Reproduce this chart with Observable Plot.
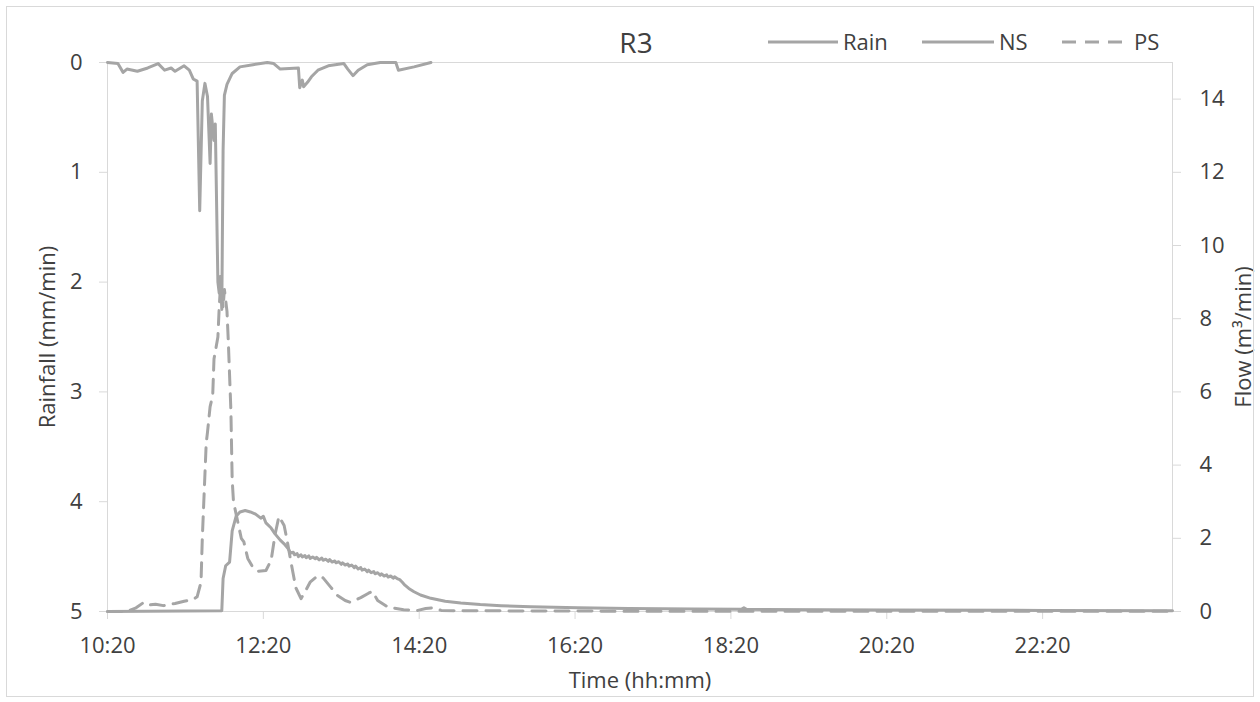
<!DOCTYPE html>
<html><head><meta charset="utf-8">
<script src="https://cdn.jsdelivr.net/npm/d3@7"></script>
<script src="https://cdn.jsdelivr.net/npm/@observablehq/plot@0.6"></script>
<style>
body{margin:0;background:#fff;}
#wrap{position:relative;width:1260px;height:702px;font-family:"Open Sans",sans-serif;color:#404040;overflow:hidden;}
#border{position:absolute;left:6px;top:6px;width:1248px;height:691px;border:1px solid #D9D9D9;box-sizing:border-box;pointer-events:none;}
#chart{position:absolute;left:0;top:0;}
#title{position:absolute;left:636px;top:42px;transform:translate(-50%,-50%);font-size:28px;white-space:nowrap;}
#legend{position:absolute;left:0;top:0;}
</style>
</head><body>
<div id="wrap">
  <div id="chart"></div>
  <div id="title">R3</div>
  <svg id="legend" width="1260" height="80"></svg>
  <div id="border"></div>
</div>
<script>
// ---- data (minutes after 10:20) ----
const rainMin = [0,8,12,15,23,31,39,44,49,52,59,63,66,69,71,73,75,77,79,80,82,83,85,86,87,88,89,90,92,96,102,112,123,128,133,147,148,150,151,154,157,162,170,182,185,189,193,200,210,222,224,236,249];
const rainVal = [0,0.01,0.09,0.06,0.08,0.05,0.01,0.07,0.05,0.08,0.03,0.07,0.15,0.17,1.35,0.35,0.19,0.31,0.92,0.47,0.71,0.56,2.0,2.1,1.95,2.25,0.8,0.3,0.2,0.1,0.04,0.02,0.0,0.01,0.06,0.05,0.23,0.16,0.22,0.18,0.13,0.07,0.03,0.01,0.06,0.12,0.07,0.02,0.0,0.0,0.07,0.04,0.0];

const nsMin = [0,88,89,91,94,96,99,102,106,110,114,118,120,122,126,129,133,136,139,141,143,144,146,147,149,150,152,153,155,156,158,160,161,163,165,166,168,170,171,173,175,176,178,180,181,183,185,186,188,190,191,193,195,196,198,200,201,203,205,206,208,210,211,213,215,216,218,220,221,223,225,227,229,232,236,241,249,260,272,287,303,326,362,401,452,488,490,492,600,721,820];
const nsVal = [0,0.02,0.9,1.25,1.35,2.2,2.6,2.72,2.76,2.72,2.66,2.55,2.6,2.42,2.28,2.12,1.95,1.85,1.72,1.6,1.62,1.55,1.58,1.5,1.55,1.49,1.53,1.47,1.52,1.45,1.49,1.44,1.48,1.41,1.46,1.4,1.43,1.37,1.42,1.35,1.38,1.33,1.36,1.29,1.33,1.27,1.3,1.24,1.27,1.2,1.24,1.16,1.2,1.13,1.16,1.09,1.13,1.06,1.09,1.03,1.06,0.99,1.03,0.97,1.0,0.94,0.97,0.91,0.95,0.9,0.87,0.8,0.72,0.63,0.54,0.45,0.36,0.28,0.23,0.19,0.16,0.13,0.1,0.08,0.07,0.06,0.1,0.06,0.04,0.03,0.02];

const psMin = [0,15,22,28,32,37,43,52,59,66,69,72,73,76,77,79,81,82,85,86,87,89,90,92,93,95,96,97,100,103,105,108,112,116,122,126,129,132,136,138,141,145,149,153,156,162,166,172,177,183,187,195,201,204,208,216,228,239,245,250,257,272,380,820];
const psVal = [0,0,0.1,0.25,0.18,0.2,0.16,0.22,0.28,0.33,0.4,0.8,2.0,4.6,4.9,5.6,5.9,6.9,7.5,8.3,8.9,8.3,8.8,8.2,7.4,5.5,3.6,3.0,2.5,2.0,1.9,1.45,1.2,1.1,1.12,1.4,2.1,2.6,2.35,2.0,1.4,0.65,0.35,0.6,0.8,0.98,0.92,0.66,0.44,0.3,0.25,0.38,0.5,0.55,0.3,0.12,0.05,0.03,0.08,0.1,0.03,0.02,0.01,0.01];

const xTickLabels = ["10:20","12:20","14:20","16:20","18:20","20:20","22:20"];
const rainTicks = [0,1,2,3,4,5];
const flowTicks = [0,2,4,6,8,10,12,14];
const RAIN_MAX = 5, FLOW_MAX = 15;

// ---- build ----
const base = Date.UTC(2000,0,1,10,20);
const toDate = m => new Date(base + m*60000);
const parseHM = s => { const [h,m] = s.split(":").map(Number); return new Date(Date.UTC(2000,0,1,h,m)); };
const rainToY = r => (RAIN_MAX - r) * FLOW_MAX / RAIN_MAX;
const yToRain = v => RAIN_MAX - v * RAIN_MAX / FLOW_MAX;

const rain = rainMin.map((m,i)=>({t:toDate(m), v:rainVal[i]}));
const ns = nsMin.map((m,i)=>({t:toDate(m), v:nsVal[i]}));
const ps = psMin.map((m,i)=>({t:toDate(m), v:psVal[i]}));
const xDomain = [parseHM("10:20"), new Date(Date.UTC(2000,0,2,0,0))];

const grey = "#A5A5A5", axisC = "#D9D9D9", textC = "#404040";

const chart = Plot.plot({
  width: 1260, height: 702,
  marginLeft: 107, marginRight: 88, marginTop: 62, marginBottom: 91,
  x: {type: "utc", domain: xDomain},
  y: {domain: [0, FLOW_MAX]},
  style: {fontFamily: "'Open Sans', sans-serif", fontSize: "22px", color: textC, background: "transparent"},
  marks: [
    Plot.ruleY([0, FLOW_MAX], {stroke: axisC, strokeWidth: 1}),
    Plot.ruleX(xDomain, {stroke: axisC, strokeWidth: 1}),
    Plot.axisX(xTickLabels.map(parseHM), {anchor: "bottom", tickFormat: d3.utcFormat("%H:%M"), tickSize: 8, tickPadding: 18, stroke: axisC, fill: textC, fontSize: 22, label: null}),
    Plot.axisY(rainTicks.map(rainToY), {anchor: "left", tickFormat: v => String(Math.round(yToRain(v))), tickSize: 8, tickPadding: 17, stroke: axisC, fill: textC, fontSize: 22, label: null}),
    Plot.axisY(flowTicks, {anchor: "right", tickSize: 8, tickPadding: 19, stroke: axisC, fill: textC, fontSize: 22, label: null}),
    Plot.text(["Rainfall (mm/min)"], {frameAnchor: "left", dx: -60, rotate: -90, textAnchor: "middle", lineAnchor: "middle", fontSize: 22, fill: textC}),
    Plot.text(["Flow (m³/min)"], {frameAnchor: "right", dx: 71, rotate: -90, textAnchor: "middle", lineAnchor: "middle", fontSize: 22, fill: textC}),
    Plot.text(["Time (hh:mm)"], {frameAnchor: "bottom", dy: 69, textAnchor: "middle", lineAnchor: "middle", fontSize: 22, fill: textC}),
    Plot.line(ns, {x: "t", y: "v", stroke: grey, strokeWidth: 3, strokeLinejoin: "round"}),
    Plot.line(ps, {x: "t", y: "v", stroke: grey, strokeWidth: 3, strokeDasharray: "14,9", strokeLinejoin: "round"}),
    Plot.line(rain, {x: "t", y: d => rainToY(d.v), stroke: grey, strokeWidth: 3, strokeLinejoin: "round"})
  ]
});
document.getElementById("chart").appendChild(chart);

// ---- legend ----
const legendItems = [
  {name: "Rain", x1: 768, x2: 838, tx: 843, dash: null},
  {name: "NS", x1: 922, x2: 994, tx: 999, dash: null},
  {name: "PS", x1: 1062, x2: 1130, tx: 1134, dash: "14,9"}
];
const lg = d3.select("#legend");
for (const it of legendItems) {
  lg.append("line").attr("x1", it.x1).attr("x2", it.x2).attr("y1", 42).attr("y2", 42)
    .attr("stroke", grey).attr("stroke-width", 3).attr("stroke-dasharray", it.dash);
  lg.append("text").attr("x", it.tx).attr("y", 42).attr("dy", "0.35em")
    .attr("font-family", "'Open Sans', sans-serif").attr("font-size", 22).attr("fill", textC).text(it.name);
}
</script>
</body></html>
